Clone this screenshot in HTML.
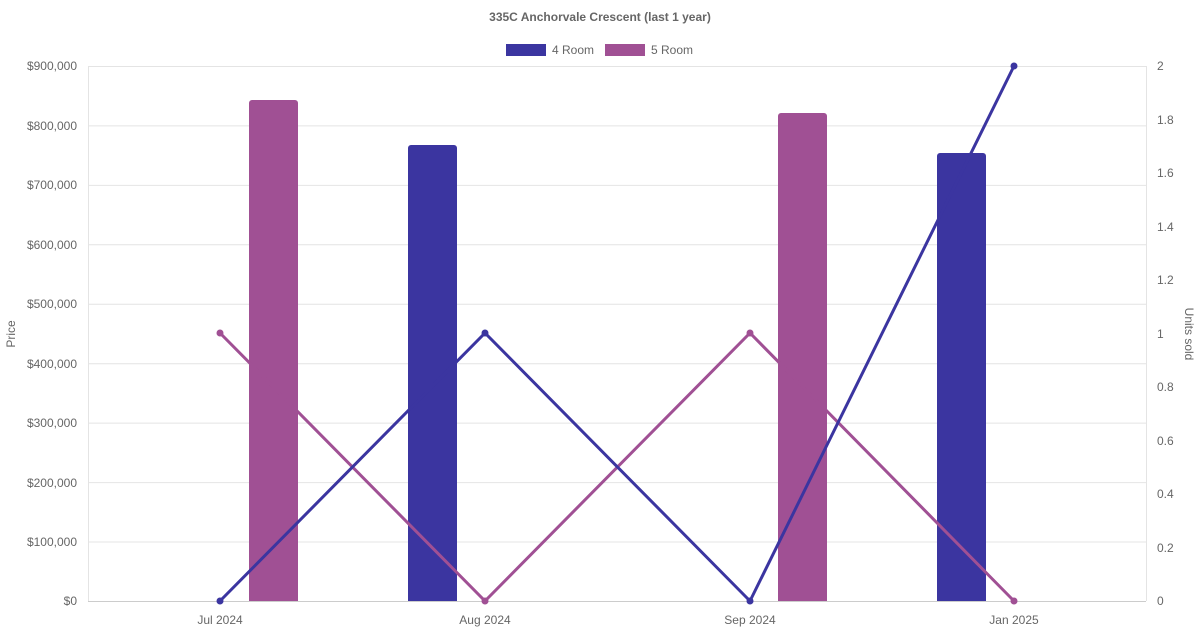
<!DOCTYPE html>
<html><head><meta charset="utf-8"><style>
html,body{margin:0;padding:0;background:#fff;}
svg{display:block;font-family:"Liberation Sans",Arial,sans-serif;}
</style></head><body>
<svg width="1200" height="630" viewBox="0 0 1200 630" xmlns="http://www.w3.org/2000/svg">
<text x="600" y="21" text-anchor="middle" font-size="12" font-weight="bold" fill="#666">335C Anchorvale Crescent (last 1 year)</text>
<rect x="506" y="44" width="40" height="12" fill="#3b35a0"/>
<text x="552" y="54" font-size="12" fill="#666">4 Room</text>
<rect x="605" y="44" width="40" height="12" fill="#a05094"/>
<text x="651" y="54" font-size="12" fill="#666">5 Room</text>
<g stroke="#e4e4e4" stroke-width="1">
<line x1="88" y1="66.5" x2="1146" y2="66.5"/>
<line x1="88" y1="125.9" x2="1146" y2="125.9"/>
<line x1="88" y1="185.4" x2="1146" y2="185.4"/>
<line x1="88" y1="244.8" x2="1146" y2="244.8"/>
<line x1="88" y1="304.3" x2="1146" y2="304.3"/>
<line x1="88" y1="363.7" x2="1146" y2="363.7"/>
<line x1="88" y1="423.1" x2="1146" y2="423.1"/>
<line x1="88" y1="482.6" x2="1146" y2="482.6"/>
<line x1="88" y1="542" x2="1146" y2="542"/>
<line x1="88.5" y1="66" x2="88.5" y2="601"/>
<line x1="1146.5" y1="66" x2="1146.5" y2="601"/>
</g>
<line x1="88" y1="601.5" x2="1146" y2="601.5" stroke="#ccc"/>
<g font-size="12" fill="#666" text-anchor="end">
<text x="77" y="70">$900,000</text><text x="77" y="130">$800,000</text><text x="77" y="189">$700,000</text>
<text x="77" y="249">$600,000</text><text x="77" y="308">$500,000</text><text x="77" y="368">$400,000</text>
<text x="77" y="427">$300,000</text><text x="77" y="487">$200,000</text><text x="77" y="546">$100,000</text>
<text x="77" y="605">$0</text>
</g>
<g font-size="12" fill="#666" text-anchor="start">
<text x="1157" y="70">2</text><text x="1157" y="124">1.8</text><text x="1157" y="177">1.6</text>
<text x="1157" y="231">1.4</text><text x="1157" y="284">1.2</text><text x="1157" y="338">1</text>
<text x="1157" y="391">0.8</text><text x="1157" y="445">0.6</text><text x="1157" y="498">0.4</text>
<text x="1157" y="552">0.2</text><text x="1157" y="605">0</text>
</g>
<g font-size="12" fill="#666" text-anchor="middle">
<text x="220" y="624">Jul 2024</text><text x="485" y="624">Aug 2024</text>
<text x="750" y="624">Sep 2024</text><text x="1014" y="624">Jan 2025</text>
</g>
<text transform="translate(15,334) rotate(-90)" font-size="12" fill="#666" text-anchor="middle">Price</text>
<text transform="translate(1185,334) rotate(90)" font-size="12" fill="#666" text-anchor="middle">Units sold</text>
<path d="M249 601V103a3 3 0 0 1 3-3h43a3 3 0 0 1 3 3V601Z" fill="#a05094"/>
<path d="M408 601V148a3 3 0 0 1 3-3h43a3 3 0 0 1 3 3V601Z" fill="#3b35a0"/>
<path d="M778 601V116a3 3 0 0 1 3-3h43a3 3 0 0 1 3 3V601Z" fill="#a05094"/>
<path d="M937 601V156a3 3 0 0 1 3-3h43a3 3 0 0 1 3 3V601Z" fill="#3b35a0"/>
<polyline points="220,333 485,601 750,333 1014,601" fill="none" stroke="#a05094" stroke-width="3"/>
<polyline points="220,601 485,333 750,601 1014,66" fill="none" stroke="#3b35a0" stroke-width="3"/>
<g fill="#a05094"><circle cx="220" cy="333" r="3.5"/><circle cx="485" cy="601" r="3.5"/><circle cx="750" cy="333" r="3.5"/><circle cx="1014" cy="601" r="3.5"/></g>
<g fill="#3b35a0"><circle cx="220" cy="601" r="3.5"/><circle cx="485" cy="333" r="3.5"/><circle cx="750" cy="601" r="3.5"/><circle cx="1014" cy="66" r="3.5"/></g>
</svg>
</body></html>
